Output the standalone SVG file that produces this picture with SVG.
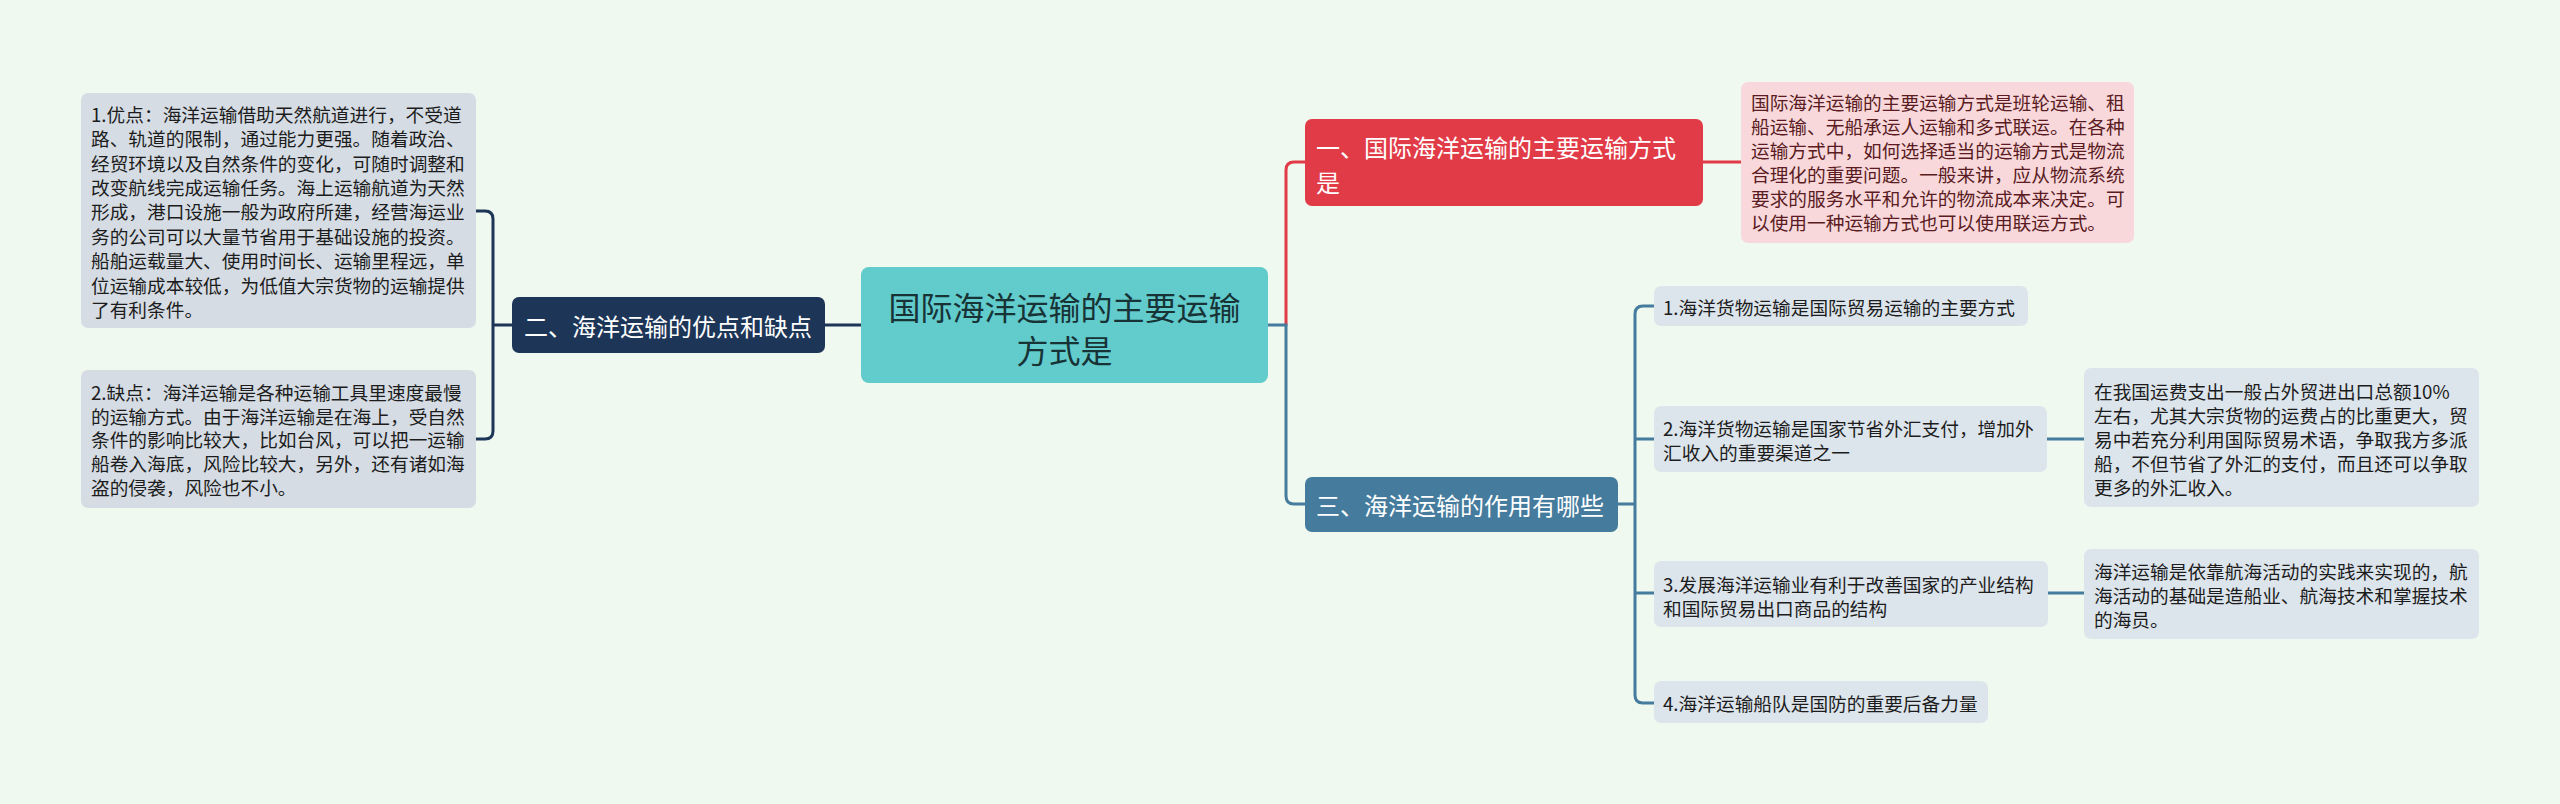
<svg xmlns="http://www.w3.org/2000/svg" width="2560" height="804" viewBox="0 0 2560 804">
<style>
text{font-family:"Noto Sans CJK SC","Noto Sans",sans-serif;dominant-baseline:central}
.body{font-size:18.7px;fill:#1c1c1c}
.pink{font-size:18.7px;fill:#5a1b22}
.main{font-size:24px;fill:#ffffff}
.ctr{font-size:32px;fill:#173336}
.gray{fill:#d6dce4}
.lite{fill:#dde5ec}
.ln{fill:none;stroke-width:3;stroke-linecap:round}
</style>
<rect x="0" y="0" width="2560" height="804" fill="#f0f9ef"/>
<g id="connectors">
<path class="ln" stroke="#1d3658" d="M476,211 H485 Q493,211 493,219 V431 Q493,439 485,439 H476 M493,325 H512 M825,325 H861"/>
<path class="ln" stroke="#e23b48" d="M1286,325 V170 Q1286,162 1294,162 H1305 M1703,162 H1741"/>
<path class="ln" stroke="#457b9d" d="M1268,325 H1286 V496 Q1286,504 1294,504 H1305 M1618,504 H1635 M1635,504 V314 Q1635,306 1643,306 H1654 M1635,504 V695 Q1635,703 1643,703 H1654 M1635,439 H1654 M1635,593 H1654 M2047,439 H2084 M2048,593 H2084"/>
</g>
<g id="center">
<rect x="861" y="267" width="407" height="116" rx="8" fill="#62cbcc"/>
<text class="ctr" x="1064.5" y="306" text-anchor="middle">国际海洋运输的主要运输</text>
<text class="ctr" x="1064.5" y="349" text-anchor="middle">方式是</text>
</g>
<g id="n2">
<rect x="512" y="297" width="313" height="56" rx="7" fill="#1d3658"/>
<text class="main" x="524" y="325">二、海洋运输的优点和缺点</text>
</g>
<g id="n2a">
<rect class="gray" x="81" y="93" width="395" height="235" rx="7"/>
<text class="body" x="91" y="113.3">1.优点：海洋运输借助天然航道进行，不受道</text>
<text class="body" x="91" y="137.7">路、轨道的限制，通过能力更强。随着政治、</text>
<text class="body" x="91" y="162.1">经贸环境以及自然条件的变化，可随时调整和</text>
<text class="body" x="91" y="186.5">改变航线完成运输任务。海上运输航道为天然</text>
<text class="body" x="91" y="210.9">形成，港口设施一般为政府所建，经营海运业</text>
<text class="body" x="91" y="235.3">务的公司可以大量节省用于基础设施的投资。</text>
<text class="body" x="91" y="259.7">船舶运载量大、使用时间长、运输里程远，单</text>
<text class="body" x="91" y="284.1">位运输成本较低，为低值大宗货物的运输提供</text>
<text class="body" x="91" y="308.5">了有利条件。</text>
</g>
<g id="n2b">
<rect class="gray" x="81" y="370" width="395" height="138" rx="7"/>
<text class="body" x="91" y="391.7">2.缺点：海洋运输是各种运输工具里速度最慢</text>
<text class="body" x="91" y="415.3">的运输方式。由于海洋运输是在海上，受自然</text>
<text class="body" x="91" y="438.9">条件的影响比较大，比如台风，可以把一运输</text>
<text class="body" x="91" y="462.5">船卷入海底，风险比较大，另外，还有诸如海</text>
<text class="body" x="91" y="486.1">盗的侵袭，风险也不小。</text>
</g>
<g id="n1">
<rect x="1305" y="119" width="398" height="87" rx="7" fill="#e23b48"/>
<text class="main" x="1316" y="146">一、国际海洋运输的主要运输方式</text>
<text class="main" x="1316" y="181">是</text>
</g>
<g id="n1a">
<rect x="1741" y="82" width="393" height="161" rx="7" fill="#f8d8db"/>
<text class="pink" x="1751" y="101.7">国际海洋运输的主要运输方式是班轮运输、租</text>
<text class="pink" x="1751" y="125.7">船运输、无船承运人运输和多式联运。在各种</text>
<text class="pink" x="1751" y="149.7">运输方式中，如何选择适当的运输方式是物流</text>
<text class="pink" x="1751" y="173.7">合理化的重要问题。一般来讲，应从物流系统</text>
<text class="pink" x="1751" y="197.7">要求的服务水平和允许的物流成本来决定。可</text>
<text class="pink" x="1751" y="221.7">以使用一种运输方式也可以使用联运方式。</text>
</g>
<g id="n3">
<rect x="1305" y="477" width="313" height="55" rx="7" fill="#457b9d"/>
<text class="main" x="1316" y="504.5">三、海洋运输的作用有哪些</text>
</g>
<g id="n3a">
<rect class="lite" x="1654" y="286" width="374" height="40" rx="7"/>
<text class="body" x="1663" y="306">1.海洋货物运输是国际贸易运输的主要方式</text>
</g>
<g id="n3b">
<rect class="lite" x="1654" y="406" width="393" height="66" rx="7"/>
<text class="body" x="1663" y="427">2.海洋货物运输是国家节省外汇支付，增加外</text>
<text class="body" x="1663" y="451">汇收入的重要渠道之一</text>
</g>
<g id="n3b1">
<rect class="lite" x="2084" y="368" width="395" height="139" rx="7"/>
<text class="body" x="2094" y="390">在我国运费支出一般占外贸进出口总额10%</text>
<text class="body" x="2094" y="414.2">左右，尤其大宗货物的运费占的比重更大，贸</text>
<text class="body" x="2094" y="438.4">易中若充分利用国际贸易术语，争取我方多派</text>
<text class="body" x="2094" y="462.6">船，不但节省了外汇的支付，而且还可以争取</text>
<text class="body" x="2094" y="486.8">更多的外汇收入。</text>
</g>
<g id="n3c">
<rect class="lite" x="1654" y="561" width="394" height="66" rx="7"/>
<text class="body" x="1663" y="583">3.发展海洋运输业有利于改善国家的产业结构</text>
<text class="body" x="1663" y="607">和国际贸易出口商品的结构</text>
</g>
<g id="n3c1">
<rect class="lite" x="2084" y="549" width="395" height="90" rx="7"/>
<text class="body" x="2094" y="570">海洋运输是依靠航海活动的实践来实现的，航</text>
<text class="body" x="2094" y="594">海活动的基础是造船业、航海技术和掌握技术</text>
<text class="body" x="2094" y="618">的海员。</text>
</g>
<g id="n3d">
<rect class="lite" x="1654" y="681" width="334" height="42" rx="7"/>
<text class="body" x="1663" y="702">4.海洋运输船队是国防的重要后备力量</text>
</g>
</svg>
